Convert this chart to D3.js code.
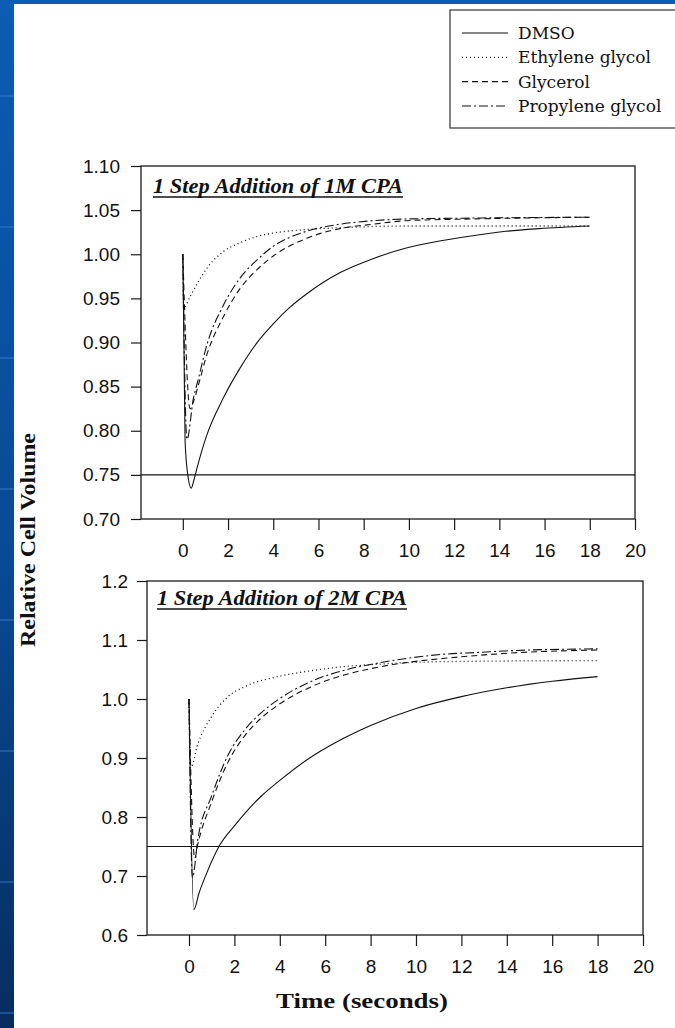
<!DOCTYPE html>
<html>
<head>
<meta charset="utf-8">
<script src="https://cdn.jsdelivr.net/npm/d3@7"></script>
<style>
  body { margin: 0; background: #fff; }
  svg { display: block; }
</style>
</head>
<body>
<svg id="svg-canvas" width="675" height="1028"></svg>
<script>
// legend entries + line styles (null = solid)
const seriesNames = ['DMSO', 'Ethylene glycol', 'Glycerol', 'Propylene glycol'];
const seriesDash = [null, '1,3', '6,4', '9,3,2,3'];

// ---- 1 step addition of 1M CPA ----
const tDmso1 = [0, 0.10, 0.22, 0.37, 0.47, 0.62, 1.06, 1.79, 2.53, 3.26, 4.0, 4.74, 5.47, 6.2, 6.94, 8.41, 9.88, 11.35, 12.82, 14.29, 15.76, 18];
const vDmso1 = [1.0, 0.788, 0.750, 0.735, 0.742, 0.757, 0.795, 0.837, 0.871, 0.899, 0.921, 0.940, 0.955, 0.968, 0.979, 0.995, 1.007, 1.015, 1.021, 1.026, 1.029, 1.032];
const tEg1 = [0, 0.03, 0.32, 0.69, 1.06, 1.79, 2.53, 3.26, 4.0, 5.47, 6.94, 9.88, 18];
const vEg1 = [1.0, 0.939, 0.952, 0.969, 0.984, 1.003, 1.013, 1.020, 1.024, 1.028, 1.030, 1.032, 1.032];
const tGly1 = [0, 0.32, 0.47, 0.69, 1.06, 1.79, 2.53, 3.26, 4.0, 5.47, 6.94, 8.41, 9.88, 12.82, 18];
const vGly1 = [1.0, 0.825, 0.833, 0.852, 0.886, 0.929, 0.961, 0.982, 0.998, 1.018, 1.029, 1.034, 1.038, 1.040, 1.042];
const tPg1 = [0, 0.18, 0.47, 0.69, 1.06, 1.79, 2.53, 3.26, 4.0, 5.47, 6.94, 8.41, 9.88, 12.82, 18];
const vPg1 = [1.0, 0.790, 0.837, 0.859, 0.897, 0.942, 0.973, 0.993, 1.009, 1.026, 1.034, 1.038, 1.040, 1.041, 1.042];

// ---- 1 step addition of 2M CPA ----
const tDmso2 = [0, 0.21, 0.45, 0.77, 1.35, 2.0, 2.5, 3.2, 4.0, 5.2, 6.5, 8.0, 10.0, 12.0, 14.0, 16.0, 18];
const vDmso2 = [1.0, 0.643, 0.672, 0.704, 0.752, 0.785, 0.808, 0.836, 0.862, 0.897, 0.927, 0.955, 0.984, 1.004, 1.019, 1.030, 1.038];
const tEg2 = [0, 0.07, 0.40, 0.99, 1.72, 2.46, 3.93, 5.40, 6.87, 8.34, 9.81, 12.75, 18];
const vEg2 = [1.0, 0.883, 0.925, 0.970, 1.004, 1.021, 1.038, 1.048, 1.055, 1.059, 1.062, 1.064, 1.065];
const tGly2 = [0, 0.25, 0.40, 0.99, 1.72, 2.46, 3.19, 3.93, 5.40, 6.87, 8.34, 9.81, 11.28, 12.75, 14.22, 18];
const vGly2 = [1.0, 0.730, 0.756, 0.825, 0.893, 0.938, 0.968, 0.990, 1.021, 1.041, 1.054, 1.063, 1.069, 1.074, 1.078, 1.083];
const tPg2 = [0, 0.15, 0.40, 0.99, 1.72, 2.46, 3.19, 3.93, 5.40, 6.87, 8.34, 9.81, 11.28, 12.75, 14.22, 18];
const vPg2 = [1.0, 0.697, 0.765, 0.835, 0.905, 0.948, 0.977, 0.999, 1.030, 1.049, 1.061, 1.070, 1.076, 1.079, 1.082, 1.085];

// axis ticks
const xTicks = [0, 2, 4, 6, 8, 10, 12, 14, 16, 18, 20];
const yTicks1 = [0.70, 0.75, 0.80, 0.85, 0.90, 0.95, 1.00, 1.05, 1.10];
const yTicks2 = [0.6, 0.7, 0.8, 0.9, 1.0, 1.1, 1.2];
const refLevel = 0.75;

const svg = d3.select('#svg-canvas');

// blue slide frame
const defs = svg.append('defs');
const grad = defs.append('linearGradient')
  .attr('id', 'frame')
  .attr('x1', 0).attr('y1', 0).attr('x2', 0).attr('y2', 1);
grad.append('stop').attr('offset', '0%').attr('stop-color', '#0b5cb4');
grad.append('stop').attr('offset', '55%').attr('stop-color', '#084a94');
grad.append('stop').attr('offset', '100%').attr('stop-color', '#072d60');

svg.append('rect').attr('x', 0).attr('y', 0).attr('width', 675).attr('height', 1028).attr('fill', 'url(#frame)');
svg.append('rect').attr('x', 0).attr('y', 0).attr('width', 675).attr('height', 4).attr('fill', '#0b5cb4');
svg.selectAll('line.grid')
  .data(d3.range(96, 1028, 131))
  .join('line')
  .attr('x1', 0).attr('x2', 14)
  .attr('y1', d => d).attr('y2', d => d)
  .attr('stroke', '#3b7fd0')
  .attr('stroke-width', 1.5)
  .attr('opacity', 0.6);
svg.append('rect').attr('x', 14).attr('y', 4).attr('width', 661).attr('height', 1024).attr('fill', '#fff');

function drawPanel(p) {
  const x = d3.scaleLinear().domain([-1.85, 20]).range([p.left, p.right]);
  const y = d3.scaleLinear().domain(p.yDomain).range([p.bottom, p.top]);
  const g = svg.append('g');

  // frame box
  g.append('rect')
    .attr('x', p.left).attr('y', p.top)
    .attr('width', p.right - p.left).attr('height', p.bottom - p.top)
    .attr('fill', 'none')
    .attr('stroke', '#1a1a1a')
    .attr('stroke-width', 1.3);

  const yAxis = g.append('g')
    .attr('transform', `translate(${p.left},0)`)
    .call(d3.axisLeft(y).tickValues(p.yTicks).tickFormat(d3.format(p.yFmt)).tickSize(10).tickPadding(p.yPad));

  const xAxis = g.append('g')
    .attr('transform', `translate(0,${p.bottom})`)
    .call(d3.axisBottom(x).tickValues(xTicks).tickSize(11).tickPadding(14));

  [yAxis, xAxis].forEach(a => {
    a.select('.domain').remove();
    a.selectAll('line').attr('stroke', '#1a1a1a').attr('stroke-width', 1.2);
    a.selectAll('text')
      .attr('fill', '#111')
      .style('font-family', '"Liberation Sans", Arial, sans-serif')
      .style('font-size', '19px');
  });

  // 0.75 reference line
  g.append('line')
    .attr('x1', p.left).attr('x2', p.right)
    .attr('y1', y(refLevel)).attr('y2', y(refLevel))
    .attr('stroke', '#111')
    .attr('stroke-width', 1.2);

  const line = d3.line()
    .x(d => x(d[0]))
    .y(d => y(d[1]))
    .curve(d3.curveMonotoneX);

  p.series.forEach((s, i) => {
    const pts = s.t.map((t, k) => [t, s.v[k]]);
    g.append('path')
      .datum(pts)
      .attr('d', line)
      .attr('fill', 'none')
      .attr('stroke', '#111')
      .attr('stroke-width', i === 1 ? 1.3 : 1.1)
      .attr('stroke-dasharray', seriesDash[i]);
  });

  // panel title
  g.append('text')
    .attr('x', p.left + p.titleDx)
    .attr('y', p.titleY)
    .attr('textLength', 250)
    .attr('lengthAdjust', 'spacingAndGlyphs')
    .style('font-family', '"Liberation Serif", "Times New Roman", serif')
    .style('font-style', 'italic')
    .style('font-weight', 'bold')
    .style('font-size', '20px')
    .attr('fill', '#111')
    .text(p.title);
  g.append('line')
    .attr('x1', p.left + p.titleDx).attr('x2', p.left + p.titleDx + 250)
    .attr('y1', p.titleY + 4).attr('y2', p.titleY + 4)
    .attr('stroke', '#111')
    .attr('stroke-width', 1.3);
}

drawPanel({
  left: 141, right: 635, top: 166, bottom: 519,
  yDomain: [0.70, 1.10], yTicks: yTicks1, yFmt: '.2f', yPad: 11,
  title: '1 Step Addition of 1M CPA', titleDx: 12, titleY: 193,
  series: [
    { t: tDmso1, v: vDmso1 },
    { t: tEg1, v: vEg1 },
    { t: tGly1, v: vGly1 },
    { t: tPg1, v: vPg1 }
  ]
});

drawPanel({
  left: 147, right: 643, top: 581, bottom: 935,
  yDomain: [0.6, 1.2], yTicks: yTicks2, yFmt: '.1f', yPad: 9,
  title: '1 Step Addition of 2M CPA', titleDx: 10, titleY: 605,
  series: [
    { t: tDmso2, v: vDmso2 },
    { t: tEg2, v: vEg2 },
    { t: tGly2, v: vGly2 },
    { t: tPg2, v: vPg2 }
  ]
});

// axis titles
svg.append('text')
  .attr('transform', 'translate(35,540) rotate(-90)')
  .attr('text-anchor', 'middle')
  .attr('textLength', 214)
  .attr('lengthAdjust', 'spacingAndGlyphs')
  .style('font-family', '"Liberation Serif", "Times New Roman", serif')
  .style('font-weight', 'bold')
  .style('font-size', '20px')
  .attr('fill', '#111')
  .text('Relative Cell Volume');

svg.append('text')
  .attr('x', 362)
  .attr('y', 1008)
  .attr('text-anchor', 'middle')
  .attr('textLength', 172)
  .attr('lengthAdjust', 'spacingAndGlyphs')
  .style('font-family', '"Liberation Serif", "Times New Roman", serif')
  .style('font-weight', 'bold')
  .style('font-size', '20px')
  .attr('fill', '#111')
  .text('Time (seconds)');

// legend
const legend = svg.append('g');
legend.append('rect')
  .attr('x', 450).attr('y', 10)
  .attr('width', 240).attr('height', 118)
  .attr('fill', '#fff')
  .attr('stroke', '#333')
  .attr('stroke-width', 1.2);

const rowY = d3.scalePoint().domain(seriesNames).range([33, 106]);
seriesNames.forEach((name, i) => {
  legend.append('line')
    .attr('x1', 462).attr('x2', 508)
    .attr('y1', rowY(name)).attr('y2', rowY(name))
    .attr('stroke', '#111')
    .attr('stroke-width', i === 1 ? 1.3 : 1.1)
    .attr('stroke-dasharray', seriesDash[i]);
  legend.append('text')
    .attr('x', 518)
    .attr('y', rowY(name) + 6)
    .style('font-family', '"DejaVu Serif", serif')
    .style('font-size', '17px')
    .attr('fill', '#111')
    .text(name);
});
</script>
</body>
</html>
